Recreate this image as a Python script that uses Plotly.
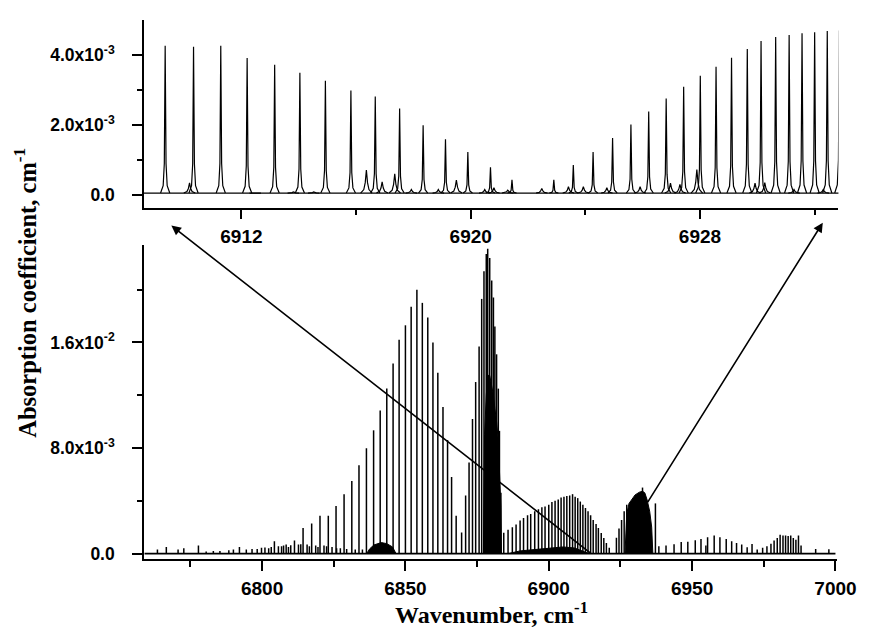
import plotly.graph_objects as go

WF, HF = 869, 629
S = 1e-3  # values below are in units of 1e-3 cm^-1

def px(x):
    return x / WF

def py(y):
    return 1 - y / HF

# ---------------- top panel (zoom 6908.6 - 6932.8 cm-1) ----------------
top_main_x = [6909.34, 6910.33, 6911.28, 6912.20, 6913.16, 6914.04, 6914.93, 6915.82,
              6916.67, 6917.52, 6918.34, 6919.12, 6919.90, 6920.69, 6921.44, 6922.90,
              6923.58, 6924.27, 6924.95, 6925.59, 6926.21, 6926.82, 6927.43, 6928.01,
              6928.56, 6929.10, 6929.65, 6930.13, 6930.64, 6931.11, 6931.56, 6932.00,
              6932.44, 6932.86]
top_main_h = [4.26, 4.23, 4.26, 3.91, 3.72, 3.49, 3.26, 2.98, 2.81, 2.47, 1.99, 1.59,
              1.22, 0.79, 0.43, 0.43, 0.85, 1.22, 1.62, 2.01, 2.38, 2.75, 3.09, 3.40,
              3.66, 3.92, 4.17, 4.40, 4.51, 4.57, 4.62, 4.65, 4.68, 4.70]
top_small_x = [6910.19, 6912.48, 6913.81, 6914.52, 6916.36, 6916.91, 6917.35, 6917.93,
               6918.87, 6919.50, 6920.49, 6920.81, 6921.29, 6922.48, 6923.41, 6923.93,
               6924.75, 6925.91, 6926.97, 6927.30, 6927.89, 6929.92, 6930.26, 6931.28,
               6932.30]
top_small_h = [0.34, 0.05, 0.08, 0.08, 0.71, 0.37, 0.60, 0.15, 0.15, 0.42, 0.15, 0.20,
               0.13, 0.18, 0.23, 0.23, 0.20, 0.23, 0.33, 0.30, 0.72, 0.33, 0.35, 0.15,
               0.15]
top_base = 0.05
top_xrange = [6908.6, 6932.83]
top_yrange = [-0.37, 5.0]
top_xtick0, top_xdtick = 6912, 8
top_yticks = [0.0, 2.0, 4.0]
top_yticktext = ["0.0", "2.0x10<sup>-3</sup>", "4.0x10<sup>-3</sup>"]
top_yminor = [1.0, 3.0]

# ---------------- bottom panel (full spectrum) ----------------
weak_x = [6763.5, 6766.6, 6770.7, 6772.7, 6777.8, 6780.5, 6783.0, 6785.3, 6788.4, 6790.0,
          6792.1, 6794.5, 6796.5, 6798.3, 6799.8, 6801.0, 6802.3, 6803.2, 6804.3, 6805.7,
          6806.8, 6807.5, 6808.4, 6809.2, 6810.0, 6811.3, 6812.7, 6813.5, 6815.7, 6816.5,
          6818.7, 6819.5, 6821.6, 6822.5, 6824.4, 6826.0, 6827.3, 6829.5, 6832.5, 6835.0]
weak_h = [0.3, 0.5, 0.3, 0.4, 0.6, 0.15, 0.2, 0.2, 0.25, 0.3,
          0.5, 0.3, 0.35, 0.35, 0.43, 0.45, 0.4, 0.5, 0.93, 0.55,
          0.55, 0.6, 0.68, 0.5, 0.62, 0.98, 0.68, 0.7, 0.68, 0.55,
          0.6, 0.5, 0.6, 0.55, 0.5, 0.4, 0.4, 0.35, 0.3, 0.3]
pband_x = [6814.3, 6817.3, 6820.2, 6823.1, 6825.8, 6828.6, 6831.3, 6833.8, 6836.4, 6838.9,
           6841.2, 6843.5, 6845.7, 6847.8, 6850.0, 6852.0, 6854.0, 6855.9, 6857.8, 6859.6,
           6861.3, 6863.1, 6864.7, 6866.1, 6867.7, 6869.6]
pband_h = [1.93, 2.28, 2.86, 2.86, 3.6, 4.5, 5.5, 6.7, 7.98, 9.34,
           10.85, 12.5, 14.4, 16.2, 17.3, 18.7, 20.0, 19.0, 17.9, 16.0,
           13.7, 11.1, 8.6, 5.8, 2.86, 1.6]
qband_x = [6871.0, 6872.2, 6873.4, 6874.5, 6875.7, 6876.6, 6877.4, 6878.2, 6878.7, 6879.4,
           6880.1, 6880.7, 6881.2, 6881.8, 6882.4, 6882.8, 6883.3]
qband_h = [4.4, 6.9, 10.2, 13.0, 15.7, 19.3, 21.4, 22.7, 23.1, 22.4,
           20.7, 19.4, 17.2, 15.1, 12.5, 9.3, 4.6]
qfill_x = [6877.2, 6877.6, 6878.2, 6878.7, 6879.4, 6880.1, 6880.7, 6881.2, 6881.8,
           6882.4, 6882.8, 6883.3, 6883.5]
qfill_h = [0, 9.0, 12.0, 13.5, 13.5, 12.8, 12.0, 11.0, 10.0, 8.5, 6.5, 3.5, 0]
rband_x = [6884.3, 6885.8, 6887.3, 6888.6, 6890.0, 6891.2, 6892.6, 6893.7, 6895.1, 6896.4,
           6897.6, 6898.7, 6900.0, 6901.1, 6902.2, 6903.3, 6904.3, 6905.3, 6906.3, 6907.3,
           6908.3, 6909.2, 6910.1, 6911.0, 6911.9, 6912.8, 6913.7, 6914.6, 6915.5, 6916.5,
           6917.3, 6918.3, 6919.2, 6920.1, 6921.1]
rband_h = [1.58, 1.8, 2.0, 2.2, 2.5, 2.7, 2.9, 3.0, 3.2, 3.35,
           3.5, 3.56, 3.7, 3.9, 4.0, 4.1, 4.24, 4.3, 4.37, 4.4,
           4.5, 4.3, 4.2, 3.94, 3.7, 3.45, 3.2, 2.9, 2.55, 2.24,
           1.93, 1.56, 1.18, 0.8, 0.43]
blob_stick_x = [6923.6, 6924.5, 6925.4, 6926.3, 6927.2, 6932.7, 6937.2]
blob_stick_h = [1.2, 1.9, 2.55, 3.2, 3.7, 5.0, 3.8]
blob_x = [6926.6, 6927.2, 6928.0, 6929.0, 6930.1, 6931.6, 6932.7, 6933.5, 6934.3, 6935.2,
          6935.9, 6936.3]
blob_h = [0, 3.0, 3.8, 4.15, 4.44, 4.65, 4.72, 4.6, 4.07, 3.2, 2.0, 0]
high_x = [6938.4, 6940.9, 6943.7, 6946.2, 6948.5, 6951.1, 6953.1, 6954.8, 6955.4, 6957.7,
          6959.7, 6961.9, 6963.8, 6965.5, 6967.3, 6969.2, 6970.9, 6972.7, 6974.6, 6976.1,
          6977.5, 6978.6, 6979.7, 6980.7, 6981.7, 6982.6, 6983.5, 6984.4, 6985.3, 6986.2,
          6987.1, 6988.0, 6993.1, 6997.7]
high_h = [0.55, 0.6, 0.7, 0.88, 0.9, 1.0, 1.1, 0.6, 1.23, 1.36,
          1.23, 1.1, 0.93, 0.8, 0.68, 0.48, 0.73, 0.3, 0.43, 0.55,
          0.75, 0.98, 1.18, 1.43, 1.36, 1.36, 1.33, 1.36, 1.18, 1.05,
          1.36, 0.6, 0.35, 0.33]
lowA_x = [6836.5, 6837.5, 6839.0, 6841.6, 6843.5, 6845.5, 6846.7]
lowA_h = [0, 0.35, 0.65, 0.83, 0.75, 0.5, 0]
lowB_x = [6886.0, 6890.0, 6895.0, 6900.0, 6905.0, 6909.0, 6912.0, 6914.0]
lowB_h = [0, 0.2, 0.3, 0.42, 0.5, 0.42, 0.2, 0]
spec_start, spec_end = 6759.0, 7000.0
bot_xrange = [6758.8, 7000.7]
bot_yrange = [-0.45, 23.35]
bot_yticks = [0.0, 8.0, 16.0]
bot_yticktext = ["0.0", "8.0x10<sup>-3</sup>", "1.6x10<sup>-2</sup>"]
bot_yminor = [4.0, 12.0, 20.0]

# ---------------- helpers ----------------
def stick_xy(xs, hs):
    x, y = [], []
    for p, h in zip(xs, hs):
        x += [p, p, None]
        y += [0, h * S, None]
    return x, y

PROF_MAIN = ([-0.16, -0.07, -0.03, 0, 0.03, 0.07, 0.16], [0, 0.05, 0.2, 1, 0.2, 0.05, 0])
PROF_SMALL = ([-0.2, -0.09, -0.04, 0, 0.04, 0.09, 0.2], [0, 0.15, 0.45, 1, 0.45, 0.15, 0])

def peak_xy(xs, hs, prof, base):
    x, y = [], []
    off, frac = prof
    for p, h in zip(xs, hs):
        for o, f in zip(off, frac):
            x.append(p + o)
            y.append((base + f * (h - base)) * S)
        x.append(None); y.append(None)
    return x, y

fig = go.Figure()
LINE = dict(color="black", width=1.2)

# top panel
fig.add_trace(go.Scatter(x=[top_xrange[0] - 1, top_xrange[1] + 1], y=[top_base * S] * 2,
                         mode="lines", line=LINE, xaxis="x2", yaxis="y2"))
tx, ty = peak_xy(top_main_x, top_main_h, PROF_MAIN, top_base)
fig.add_trace(go.Scatter(x=tx, y=ty, mode="lines", line=LINE, xaxis="x2", yaxis="y2"))
tx, ty = peak_xy(top_small_x, top_small_h, PROF_SMALL, top_base)
fig.add_trace(go.Scatter(x=tx, y=ty, mode="lines", line=LINE, xaxis="x2", yaxis="y2"))

# bottom panel fills
for fx, fh in [(qfill_x, qfill_h), (blob_x, blob_h), (lowA_x, lowA_h), (lowB_x, lowB_h)]:
    fig.add_trace(go.Scatter(x=fx, y=[v * S for v in fh], mode="lines", fill="toself",
                             fillcolor="black", line=dict(color="black", width=1),
                             xaxis="x", yaxis="y"))
# baseline
fig.add_trace(go.Scatter(x=[spec_start, spec_end], y=[0, 0], mode="lines",
                         line=dict(color="black", width=1.8), xaxis="x", yaxis="y"))
# sticks
all_x, all_y = [], []
for xs, hs in [(weak_x, weak_h), (pband_x, pband_h), (qband_x, qband_h), (rband_x, rband_h),
               (blob_stick_x, blob_stick_h), (high_x, high_h)]:
    sx, sy = stick_xy(xs, hs)
    all_x += sx; all_y += sy
fig.add_trace(go.Scatter(x=all_x, y=all_y, mode="lines",
                         line=dict(color="black", width=1.5), xaxis="x", yaxis="y"))

FONT_FAM = "Liberation Sans, Arial"
XFONT = dict(family=FONT_FAM, size=19, color="black", weight="bold")
YFONT = dict(family=FONT_FAM, size=17.5, color="black", weight="bold")
AX = dict(showline=True, linecolor="black", linewidth=1.5, ticks="outside", tickwidth=1.5,
          tickcolor="black", ticklen=10, showgrid=False, zeroline=False)
XAX = dict(AX, ticklabelstandoff=1, tickfont=XFONT)
YAX = dict(AX, ticklabelstandoff=14, tickfont=YFONT)

fig.update_layout(
    width=WF, height=HF, margin=dict(l=0, r=0, t=0, b=0),
    paper_bgcolor="white", plot_bgcolor="rgba(0,0,0,0)", showlegend=False,
    xaxis=dict(XAX, domain=[px(139), px(848)], range=bot_xrange, anchor="y",
               tickmode="linear", tick0=6800, dtick=50,
               minor=dict(tickmode="linear", tick0=6775, dtick=50, ticklen=6,
                          tickwidth=1.5, tickcolor="black", ticks="outside")),
    yaxis=dict(YAX, domain=[py(555), py(239)], range=[v * S for v in bot_yrange],
               anchor="x", tickmode="array", tickvals=[v * S for v in bot_yticks],
               ticktext=bot_yticktext,
               minor=dict(tickmode="array", tickvals=[v * S for v in bot_yminor], ticklen=5,
                          tickwidth=1.5, tickcolor="black", ticks="outside")),
    xaxis2=dict(XAX, domain=[px(139), px(849)], range=top_xrange, anchor="y2",
                tickmode="linear", tick0=top_xtick0, dtick=top_xdtick,
                minor=dict(tickmode="linear", tick0=top_xtick0 + 4, dtick=top_xdtick,
                           ticklen=6, tickwidth=1.5, tickcolor="black", ticks="outside")),
    yaxis2=dict(YAX, domain=[py(201), py(12)], range=[v * S for v in top_yrange],
                anchor="x2", tickmode="array", tickvals=[v * S for v in top_yticks],
                ticktext=top_yticktext,
                minor=dict(tickmode="array", tickvals=[v * S for v in top_yminor], ticklen=5,
                           tickwidth=1.5, tickcolor="black", ticks="outside")),
)

TITLEFONT = dict(family="Liberation Serif, Times New Roman", size=24.5, color="black",
                 weight="bold")
fig.add_annotation(text="Absorption coefficient, cm<sup>-1</sup>", xref="paper", yref="paper",
                   x=px(18), y=py(287), textangle=-90, showarrow=False, font=TITLEFONT,
                   xanchor="center", yanchor="middle")
fig.add_annotation(text="Wavenumber, cm<sup>-1</sup>", xref="paper", yref="paper",
                   x=px(494), y=py(609), showarrow=False, font=dict(TITLEFONT, size=24),
                   xanchor="center", yanchor="middle")
# zoom arrows
for hx, hy, tx_, ty_ in [(167, 219, 588, 548), (833, 216, 657, 497)]:
    fig.add_annotation(text="", xref="paper", yref="paper", x=px(hx), y=py(hy),
                       ax=tx_ - hx, ay=ty_ - hy, showarrow=True, arrowhead=2, arrowsize=1.2,
                       arrowwidth=1.6, arrowcolor="black", standoff=0, startstandoff=0)

fig.write_html("out.html")
